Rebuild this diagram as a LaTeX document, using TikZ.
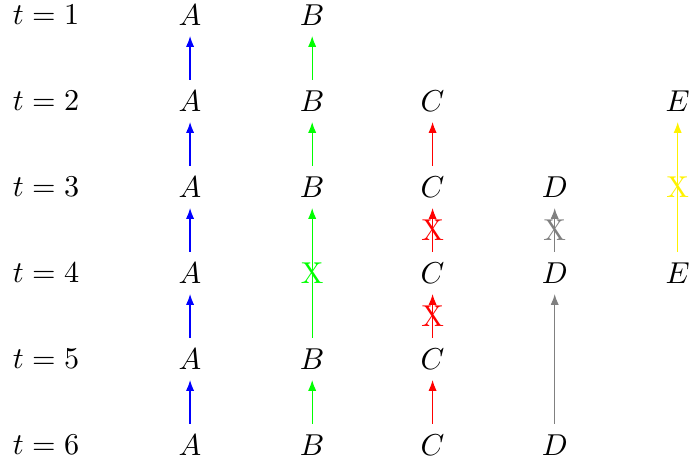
\documentclass[tikz,border=0pt]{standalone}
\usepackage{amsmath}
\usepackage{tikz}
\usetikzlibrary{arrows.meta}

\begin{document}
\begin{tikzpicture}[>={Latex[length=3.6pt,width=2.7pt]},y=-1cm]
  \useasboundingbox (0,0) rectangle (8.035,5.453);
  % time steps
  \foreach \t in {1,...,6}
    \node (t\t) at (0.535,\t-0.826) {$t=\t$};
  % objects per time step
  \foreach \name/\x/\rows in {A/2.21/{1,2,3,4,5,6},B/3.63/{1,2,3,5,6},C/5.03/{2,3,4,5,6},D/6.45/{3,4,6},E/7.88/{2,4}}
    \foreach \t in \rows
      \node (\name\t) at (\x,\t-0.826) {$\name$};
  % links
  \foreach \t/\s in {2/1,3/2,4/3,5/4,6/5}
    \draw[->,blue] (A\t) -- (A\s);
  \foreach \t/\s in {2/1,3/2,6/5}
    \draw[->,green] (B\t) -- (B\s);
  \draw[->,green] (B5) -- node (xb4) {X} (B3);
  \foreach \t/\s in {3/2,6/5}
    \draw[->,red] (C\t) -- (C\s);
  \draw[->,red] (C4) -- node (xc3) {X} (C3);
  \draw[->,red] (C5) -- node (xc4) {X} (C4);
  \draw[->,gray] (D4) -- node (xd3) {X} (D3);
  \draw[->,gray] (D6) -- (D4);
  \draw[->,yellow] (E4) -- node (xe3) {X} (E2);
\end{tikzpicture}
\end{document}
